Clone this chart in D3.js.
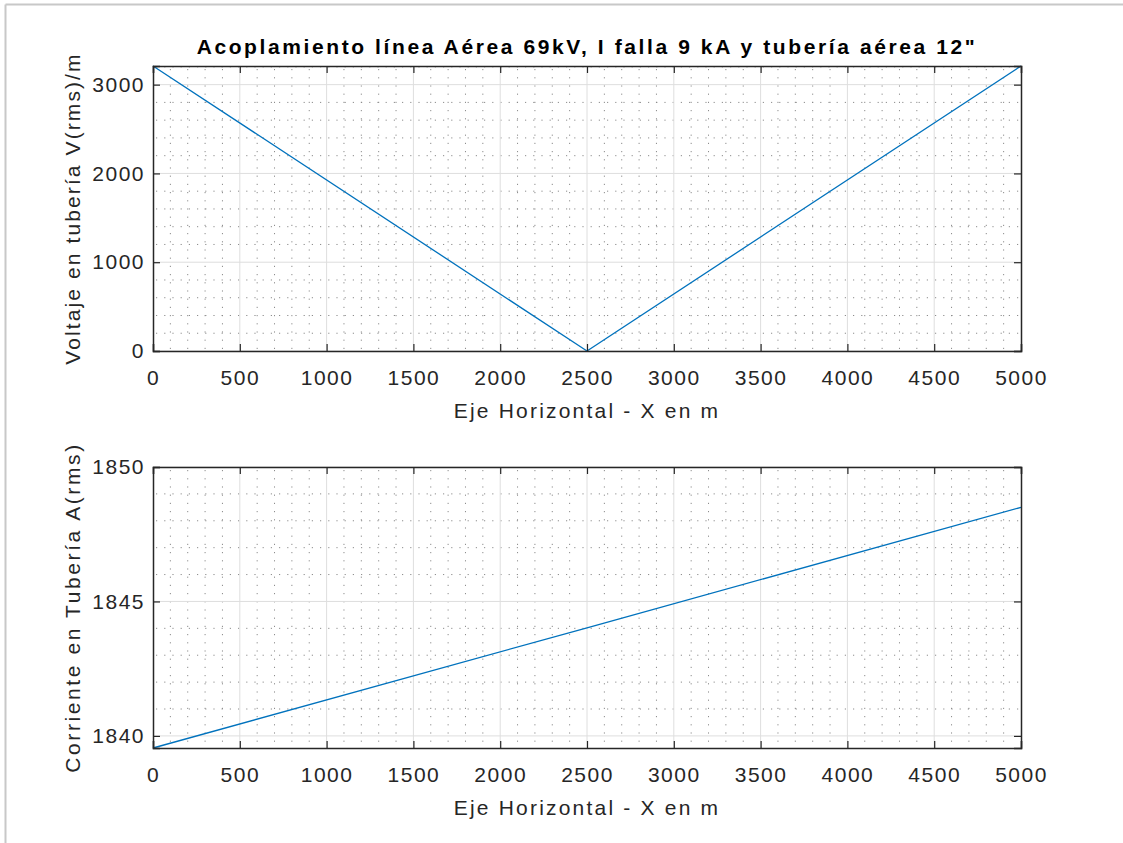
<!DOCTYPE html>
<html>
<head>
<meta charset="utf-8">
<script src="https://cdn.jsdelivr.net/npm/d3@7"></script>
<style>
  body { margin: 0; background: #fff; }
  svg { display: block; font-family: "Liberation Sans", Arial, sans-serif; }
</style>
</head>
<body>
<svg id="chart" width="1123" height="843"></svg>
<script>
// data
var xPos = [0, 2500, 5000];
var voltaje = [3210, 0, 3210];
var xCorr = [0, 2500, 5000];
var corriente = [1839.55, 1844.02, 1848.5];

var xTicks = [0, 500, 1000, 1500, 2000, 2500, 3000, 3500, 4000, 4500, 5000];
var vTicks = [0, 1000, 2000, 3000];
var cTicks = [1840, 1845, 1850];

var titulo = 'Acoplamiento línea Aérea 69kV, I falla 9 kA y tubería aérea 12"';

var svg = d3.select("#chart");

// figure frame (grey lines top and left only)
svg.append("line").attr("x1", 5.5).attr("x2", 1123).attr("y1", 4.5).attr("y2", 4.5)
    .attr("stroke", "#c8c8c8").attr("stroke-width", 2);
svg.append("line").attr("x1", 5.5).attr("x2", 5.5).attr("y1", 4.5).attr("y2", 843)
    .attr("stroke", "#c8c8c8").attr("stroke-width", 2);

function drawPanel(opt) {
    var left = 153, right = 1021;
    var x = d3.scaleLinear().domain([0, 5000]).range([left, right]);
    var y = d3.scaleLinear().domain(opt.yDomain).range([opt.bottom, opt.top]);
    var g = svg.append("g");

    // minor grid (dotted)
    var xMinor = d3.range(0, 5001, 100).filter(function (d) { return d % 500 !== 0; });
    var yMinor = d3.range(opt.yDomain[0] - opt.yDomain[0] % opt.minorStep + opt.minorStep,
        opt.yDomain[1], opt.minorStep)
        .filter(function (d) { return Math.abs(d / opt.majorStep - Math.round(d / opt.majorStep)) > 1e-6; });
    g.selectAll(".xminor").data(xMinor).enter().append("line")
        .attr("x1", function (d) { return x(d); }).attr("x2", function (d) { return x(d); })
        .attr("y1", opt.top).attr("y2", opt.bottom)
        .attr("stroke", "#8c8c8c").attr("stroke-width", 1)
        .attr("stroke-dasharray", "1.2,7").attr("stroke-dashoffset", -3);
    g.selectAll(".yminor").data(yMinor).enter().append("line")
        .attr("x1", left).attr("x2", right)
        .attr("y1", function (d) { return y(d); }).attr("y2", function (d) { return y(d); })
        .attr("stroke", "#8c8c8c").attr("stroke-width", 1)
        .attr("stroke-dasharray", "1.2,7").attr("stroke-dashoffset", -3);

    // major grid
    g.selectAll(".xgrid").data(xTicks.slice(1, -1)).enter().append("line")
        .attr("x1", function (d) { return x(d); }).attr("x2", function (d) { return x(d); })
        .attr("y1", opt.top).attr("y2", opt.bottom)
        .attr("stroke", "#dedede").attr("stroke-width", 1);
    g.selectAll(".ygrid").data(opt.yTicks).enter().append("line")
        .attr("x1", left).attr("x2", right)
        .attr("y1", function (d) { return y(d); }).attr("y2", function (d) { return y(d); })
        .attr("stroke", "#dedede").attr("stroke-width", 1);

    // series line
    var line = d3.line()
        .x(function (d) { return x(d[0]); })
        .y(function (d) { return y(d[1]); });
    g.append("path")
        .datum(d3.zip(opt.xs, opt.ys))
        .attr("fill", "none")
        .attr("stroke", "#0072bd")
        .attr("stroke-width", 1.3)
        .attr("d", line);

    // axes with inner ticks, mirrored on the opposite side
    var xAxis = d3.axisBottom(x).tickValues(xTicks).tickSize(-7).tickFormat(d3.format("d"));
    var yAxis = d3.axisLeft(y).tickValues(opt.yTicks).tickSize(-7).tickPadding(8).tickFormat(d3.format("d"));
    var gx = g.append("g").attr("transform", "translate(0," + opt.bottom + ")").call(xAxis);
    var gy = g.append("g").attr("transform", "translate(" + left + ",0)").call(yAxis);
    var gxt = g.append("g").attr("transform", "translate(0," + opt.top + ")")
        .call(d3.axisTop(x).tickValues(xTicks).tickSize(-7).tickFormat(""));
    var gyr = g.append("g").attr("transform", "translate(" + right + ",0)")
        .call(d3.axisRight(y).tickValues(opt.yTicks).tickSize(-7).tickFormat(""));
    [gx, gy, gxt, gyr].forEach(function (a) {
        a.select(".domain").attr("stroke", "#262626").attr("stroke-width", 1.5);
        a.selectAll(".tick line").attr("stroke", "#262626").attr("stroke-width", 1.2);
        a.selectAll("text").attr("fill", "#262626")
            .style("font-family", "Liberation Sans, Arial, sans-serif")
            .style("font-size", "21px").style("letter-spacing", "1.5px");
    });
    gx.selectAll("text").attr("y", 34).attr("dy", 0);

    // axis titles
    g.append("text")
        .attr("x", (left + right) / 2).attr("y", opt.bottom + 67)
        .attr("text-anchor", "middle")
        .attr("fill", "#262626").style("font-size", "21px").style("letter-spacing", "2.2px")
        .text("Eje Horizontal - X en m");
    g.append("text")
        .attr("transform", "translate(80," + ((opt.top + opt.bottom) / 2) + ") rotate(-90)")
        .attr("text-anchor", "middle")
        .attr("fill", "#262626").style("font-size", "21px").style("letter-spacing", opt.labelSpacing)
        .text(opt.yLabel);
}

drawPanel({
    top: 66, bottom: 351,
    yDomain: [0, 3210],
    yTicks: vTicks, majorStep: 1000, minorStep: 200,
    xs: xPos, ys: voltaje,
    yLabel: "Voltaje en tubería V(rms)/m", labelSpacing: "2.1px"
});

drawPanel({
    top: 467, bottom: 748,
    yDomain: [1839.55, 1850],
    yTicks: cTicks, majorStep: 5, minorStep: 1,
    xs: xCorr, ys: corriente,
    yLabel: "Corriente en Tubería A(rms)", labelSpacing: "2.6px"
});

svg.append("text")
    .attr("x", 587).attr("y", 54)
    .attr("text-anchor", "middle")
    .attr("fill", "#000")
    .style("font-size", "21px").style("font-weight", "bold").style("letter-spacing", "2.6px")
    .text(titulo);
</script>
</body>
</html>
